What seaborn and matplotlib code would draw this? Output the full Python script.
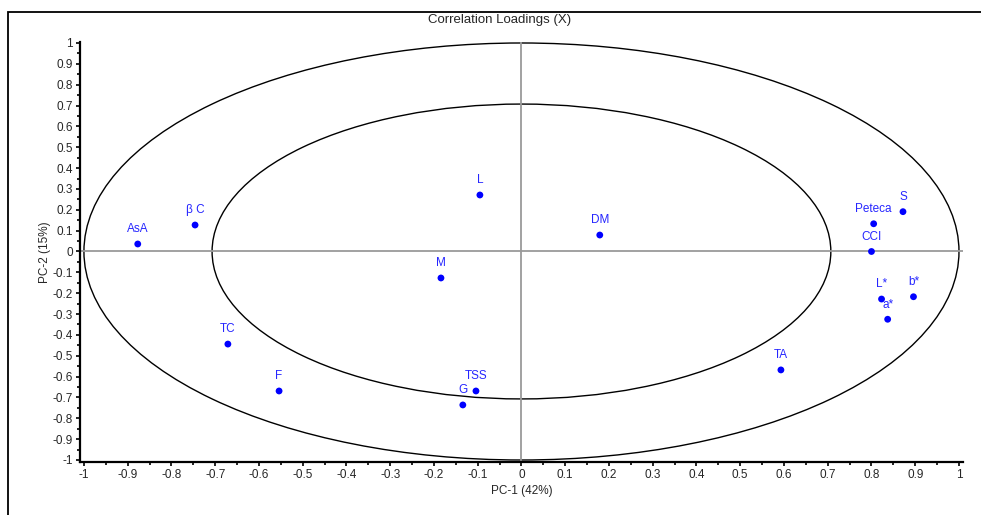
import numpy as np
import pandas as pd
import matplotlib
matplotlib.use("Agg")
import matplotlib.pyplot as plt
import seaborn as sns
from matplotlib.patches import Ellipse, Rectangle
from matplotlib.ticker import MultipleLocator, FuncFormatter

variables = ["AsA", "\u03b2 C", "L", "DM", "M", "TC", "F", "TSS", "G", "TA",
             "Peteca", "S", "CCI", "L*", "b*", "a*"]
pc1 = [-0.877, -0.746, -0.095, 0.179, -0.184, -0.671, -0.554, -0.104, -0.134, 0.593,
       0.805, 0.872, 0.800, 0.823, 0.896, 0.837]
pc2 = [0.036, 0.127, 0.271, 0.079, -0.127, -0.444, -0.669, -0.669, -0.736, -0.568,
       0.133, 0.191, 0.000, -0.228, -0.217, -0.325]

title = "Correlation Loadings (X)"
xlabel = "PC-1 (42%)"
ylabel = "PC-2 (15%)"

df = pd.DataFrame({"var": variables, "pc1": pc1, "pc2": pc2})

sns.set_style("white")
plt.rcParams["font.family"] = ["Liberation Sans", "DejaVu Sans"]

fig = plt.figure(figsize=(9.81, 5.15), dpi=100)
ax = fig.add_axes([80 / 981, 1 - 462 / 515, (962.7 - 80) / 981, (462 - 41.7) / 515])

# correlation circles (100% and 50% explained variance)
for r in [1.0, np.sqrt(0.5)]:
    ax.add_patch(Ellipse((0, 0), 2 * r, 2 * r, fill=False, edgecolor="black", lw=1.0, zorder=1))
ax.axhline(0, color="#9a9a9a", lw=1.3, zorder=1)
ax.axvline(0, color="#9a9a9a", lw=1.3, zorder=1)

sns.scatterplot(data=df, x="pc1", y="pc2", color="#0000ff", s=24, edgecolor="none", ax=ax, zorder=3)
for _, row in df.iterrows():
    ax.annotate(row["var"], (row["pc1"], row["pc2"]), xytext=(0, 10.5), textcoords="offset points",
                ha="center", va="center", color="#2626ff", fontsize=8.5)

ax.set_xlim(-1.009, 1.0085)
ax.set_ylim(-1.0096, 1.0062)
ax.xaxis.set_major_locator(MultipleLocator(0.1))
ax.xaxis.set_minor_locator(MultipleLocator(0.05))
ax.yaxis.set_major_locator(MultipleLocator(0.1))
ax.yaxis.set_minor_locator(MultipleLocator(0.05))
fmt = FuncFormatter(lambda v, p: f"{round(v, 2):g}" if abs(v) > 1e-9 else "0")
ax.xaxis.set_major_formatter(fmt)
ax.yaxis.set_major_formatter(fmt)
ax.tick_params(which="major", direction="out", length=3.2, width=1.2, labelsize=8.5, color="black",
               bottom=True, left=True, pad=2)
ax.tick_params(which="minor", direction="out", length=2.2, width=1.2, color="black",
               bottom=True, left=True)
for s in ["top", "right"]:
    ax.spines[s].set_visible(False)
for s in ["left", "bottom"]:
    ax.spines[s].set_linewidth(1.6)
    ax.spines[s].set_color("black")

ax.set_xlabel(xlabel, fontsize=8.5, labelpad=3)
ax.set_ylabel(ylabel, fontsize=8.5, labelpad=1)

fig.text(500 / 981, 1 - 20 / 515, title, ha="center", va="center", fontsize=9.5)
fig.patches.append(Rectangle((8 / 981, -0.1), 1.2, 1.1 - 12 / 515, transform=fig.transFigure,
                             fill=False, edgecolor="black", lw=1.3))

fig.savefig("out.png", dpi=100)
